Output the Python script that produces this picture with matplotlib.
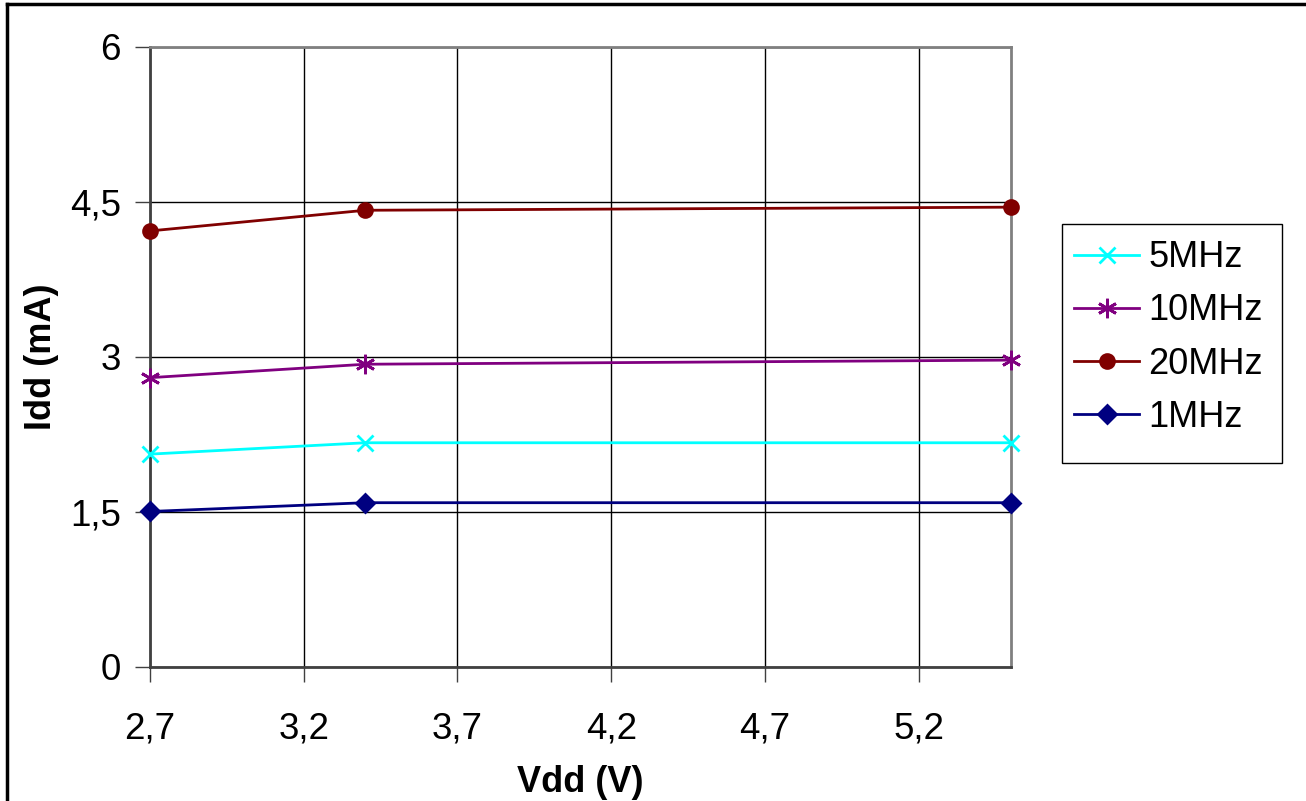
import matplotlib.pyplot as plt
from matplotlib.lines import Line2D
from matplotlib.patches import Rectangle

plt.rcParams['font.family'] = ['Liberation Sans', 'DejaVu Sans']

vdd = [2.7, 3.4, 5.5]
labels = ["5MHz", "10MHz", "20MHz", "1MHz"]
idd_5 = [2.06, 2.17, 2.17]
idd_10 = [2.80, 2.93, 2.97]
idd_20 = [4.22, 4.42, 4.45]
idd_1 = [1.505, 1.59, 1.59]
xticks = [2.7, 3.2, 3.7, 4.2, 4.7, 5.2]
yticks = [0, 1.5, 3, 4.5, 6]

W, H = 1306, 801
fig = plt.figure(figsize=(W/100, H/100), dpi=100)
ax = fig.add_axes([150/W, 1-667/H, (1011-150)/W, (667-47)/H])

# series: values, colour, marker, marker size
series = [
    (idd_5, "#00FFFF", "x", 12),
    (idd_10, "#800080", (6, 2, 0), 14),
    (idd_20, "#800000", "o", 10),
    (idd_1, "#000080", "D", 9),
]
for (vals, col, mk, ms), lab in zip(series, labels):
    ax.plot(vdd, vals, color=col, lw=2, marker=mk, ms=ms, mew=2,
            label=lab, clip_on=False, zorder=3)

ax.set_xlim(2.7, 5.5)
ax.set_ylim(0, 6)
ax.set_xticks(xticks)
ax.set_yticks(yticks)
ax.set_xticklabels([str(t).replace(".", ",") for t in xticks])
ax.set_yticklabels(["0", "1,5", "3", "4,5", "6"])
ax.grid(True, color="black", lw=1)
ax.set_axisbelow(True)
ax.tick_params(labelsize=26.5, length=11, width=1, color="#404040")
ax.tick_params(axis="x", pad=21)
ax.tick_params(axis="y", pad=10)

for s in ["left", "bottom"]:
    ax.spines[s].set_color("#404040")
    ax.spines[s].set_linewidth(2)
for s in ["top", "right"]:
    ax.spines[s].set_color("#808080")
    ax.spines[s].set_linewidth(2)

ax.set_xlabel("Vdd (V)", fontsize=26, fontweight="bold", labelpad=13)
ax.set_ylabel("Idd (mA)", fontsize=26, fontweight="bold", labelpad=8)

# legend entries without frame; the box is drawn separately (Excel style,
# extra room below the last entry)
fig.add_artist(Rectangle((1062/W, 1-463/H), 220/W, 239/H, transform=fig.transFigure,
                         facecolor="white", edgecolor="black", lw=1))
leg = fig.legend(loc="upper left", bbox_to_anchor=(1060/W, 1-226/H),
                 fontsize=26, frameon=False, handlelength=1.8, handletextpad=0.25,
                 labelspacing=0.5, borderpad=0.4, borderaxespad=0)

# outer frame of the picture (left and top edges visible)
fig.add_artist(Line2D([7/W, 7/W], [0, 1-4/H], color="black", lw=2.5))
fig.add_artist(Line2D([7/W, 1], [1-4/H, 1-4/H], color="black", lw=2.5))

fig.savefig("out.png", dpi=100)
